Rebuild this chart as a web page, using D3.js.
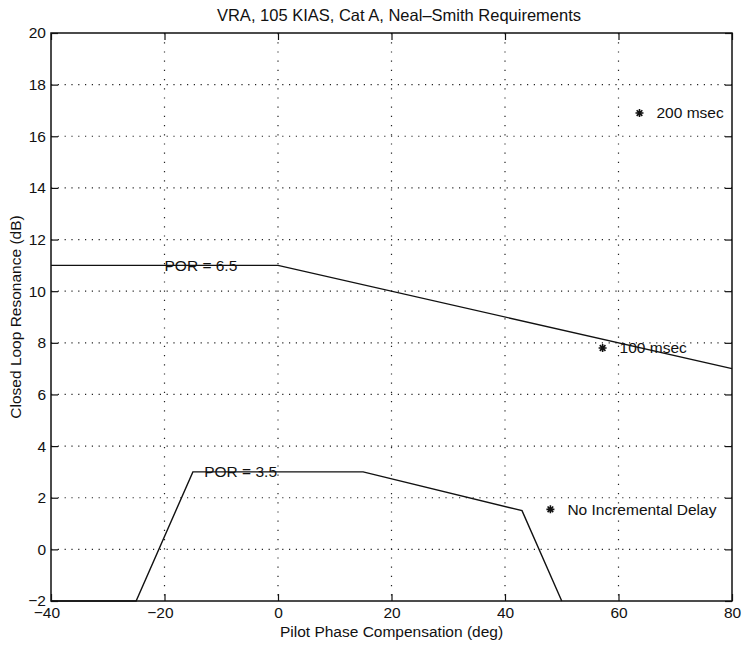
<!doctype html>
<html>
<head>
    <meta charset="utf-8">
    <title>Neal-Smith Requirements</title>
    <script src="https://d3js.org/d3.v7.min.js"></script>
    <style>
        body {
            margin: 0;
            background: white;
        }

        .axis text,
        .label,
        .note {
            font-family: "Liberation Sans", Arial, sans-serif;
            font-size: 15.5px;
            fill: #111;
        }

        .title {
            font-family: "Liberation Sans", Arial, sans-serif;
            font-size: 16.5px;
            fill: #111;
        }

        .axis line {
            stroke: #111;
            stroke-width: 1.2;
        }

        .grid line {
            stroke: #222;
            stroke-width: 1.2;
            stroke-dasharray: 1.2, 5.6;
        }
    </style>
</head>

<body>
<div id="forChart"></div>

<script>

// values
const xTicks = [-40, -20, 0, 20, 40, 60, 80];
const yTicks = [-2, 0, 2, 4, 6, 8, 10, 12, 14, 16, 18, 20];

const porHighX = [-40, 0, 80];
const porHighY = [11, 11, 7];
const porHighText = "POR = 6.5";
const porHighAt = [-20, 11];

const porLowX = [-40, -25, -15, 15, 43, 50];
const porLowY = [-2, -2, 3, 3, 1.5, -2];
const porLowText = "POR = 3.5";
const porLowAt = [-13, 3];

const delayNames = ["No Incremental Delay", "100 msec", "200 msec"];
const delayX = [48, 57.2, 63.7];
const delayY = [1.55, 7.8, 16.9];

const forTitle = "VRA, 105 KIAS, Cat A, Neal\u2013Smith Requirements";
const forXLabel = "Pilot Phase Compensation (deg)";
const forYLabel = "Closed Loop Resonance (dB)";

const w = 751;
const h = 647;

const margin = {
    top: 33,
    right: 19,
    bottom: 46,
    left: 51
};

const svg = d3.select("#forChart")
              .append("svg")
              .attr("width", w)
              .attr("height", h);

const xScale = d3.scaleLinear()
                 .domain([-40, 80])
                 .range([margin.left, w - margin.right]);

const yScale = d3.scaleLinear()
                 .domain([-2, 20])
                 .range([h - margin.bottom, margin.top]);

const x0 = xScale.range()[0], x1 = xScale.range()[1];
const y0 = yScale.range()[1], y1 = yScale.range()[0];

// dotted grid
svg.append("g")
    .attr("class", "grid")
    .selectAll("line")
    .data(yTicks.slice(1, -1))
    .enter()
    .append("line")
    .attr("x1", x0)
    .attr("x2", x1)
    .attr("y1", d => yScale(d))
    .attr("y2", d => yScale(d));

svg.append("g")
    .attr("class", "grid")
    .selectAll("line")
    .data(xTicks.slice(1, -1))
    .enter()
    .append("line")
    .attr("x1", d => xScale(d))
    .attr("x2", d => xScale(d))
    .attr("y1", y0)
    .attr("y2", y1)
    .style("stroke-dasharray", "1.2, 8");

// axes, ticks pointing inward
const fmt = d3.format("d");

const xAxis = d3.axisBottom(xScale)
                .tickValues(xTicks)
                .tickSize(-7)
                .tickPadding(6)
                .tickFormat(fmt);

const yAxis = d3.axisLeft(yScale)
                .tickValues(yTicks)
                .tickSize(-7)
                .tickPadding(5)
                .tickFormat(fmt);

const gx = svg.append("g")
    .attr("class", "axis")
    .attr("transform", "translate(0," + y1 + ")")
    .call(xAxis);
gx.select(".domain").remove();
gx.selectAll("text")
    .attr("dx", d => d < 0 ? "-0.3em" : 0);

const gy = svg.append("g")
    .attr("class", "axis")
    .attr("transform", "translate(" + x0 + ",0)")
    .call(yAxis);
gy.select(".domain").remove();

// ticks on the top and right sides
svg.append("g")
    .attr("class", "axis")
    .attr("transform", "translate(0," + y0 + ")")
    .call(d3.axisTop(xScale).tickValues(xTicks).tickSize(-7).tickFormat(""))
    .select(".domain").remove();

svg.append("g")
    .attr("class", "axis")
    .attr("transform", "translate(" + x1 + ",0)")
    .call(d3.axisRight(yScale).tickValues(yTicks).tickSize(-7).tickFormat(""))
    .select(".domain").remove();

svg.append("rect")
    .attr("x", x0)
    .attr("y", y0)
    .attr("width", x1 - x0)
    .attr("height", y1 - y0)
    .style("fill", "none")
    .style("stroke", "#111")
    .style("stroke-width", 1.5);

// requirement boundaries
const line = d3.line()
               .x(d => xScale(d[0]))
               .y(d => yScale(d[1]));

svg.append("path")
    .datum(porHighX.map((d, i) => [d, porHighY[i]]))
    .attr("d", line)
    .style("fill", "none")
    .style("stroke", "#111")
    .style("stroke-width", 1.4);

svg.append("path")
    .datum(porLowX.map((d, i) => [d, porLowY[i]]))
    .attr("d", line)
    .style("fill", "none")
    .style("stroke", "#111")
    .style("stroke-width", 1.4);

svg.append("text")
    .attr("class", "note")
    .attr("x", xScale(porHighAt[0]))
    .attr("y", yScale(porHighAt[1]))
    .attr("dy", "0.35em")
    .text(porHighText);

svg.append("text")
    .attr("class", "note")
    .attr("x", xScale(porLowAt[0]))
    .attr("y", yScale(porLowAt[1]))
    .attr("dy", "0.35em")
    .text(porLowText);

// asterisk markers with 8 arms
const star = function (r) {
    const p = d3.path();
    for (let k = 0; k < 4; k++) {
        const a = k * Math.PI / 4;
        p.moveTo(-r * Math.cos(a), -r * Math.sin(a));
        p.lineTo(r * Math.cos(a), r * Math.sin(a));
    }
    return p.toString();
};

const delays = delayNames.map((d, i) => ({ name: d, x: delayX[i], y: delayY[i] }));

svg.selectAll("path.star")
    .data(delays)
    .enter()
    .append("path")
    .attr("class", "star")
    .attr("transform", d => "translate(" + xScale(d.x) + "," + yScale(d.y) + ")")
    .attr("d", star(4))
    .style("stroke", "#111")
    .style("stroke-width", 1.6);

svg.selectAll("text.delay")
    .data(delays)
    .enter()
    .append("text")
    .attr("class", "note delay")
    .attr("x", d => xScale(d.x) + 17)
    .attr("y", d => yScale(d.y))
    .attr("dy", "0.35em")
    .text(d => d.name);

// titles
svg.append("text")
    .attr("class", "title")
    .style("text-anchor", "middle")
    .attr("x", 399)
    .attr("y", 21)
    .text(forTitle);

svg.append("text")
    .attr("class", "label")
    .style("text-anchor", "middle")
    .attr("x", (x0 + x1) / 2)
    .attr("y", 637)
    .text(forXLabel);

svg.append("text")
    .attr("class", "label")
    .style("text-anchor", "middle")
    .attr("transform", "translate(21," + (y0 + y1) / 2 + ") rotate(-90)")
    .text(forYLabel);

</script>

</body>

</html>
